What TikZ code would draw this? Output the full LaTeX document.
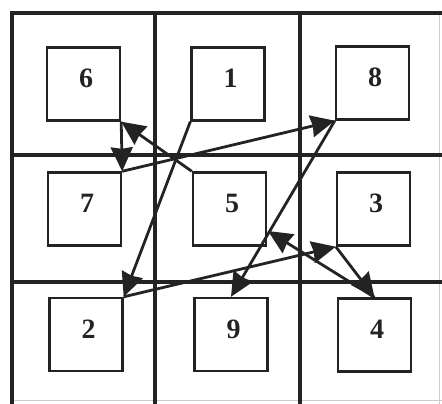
\documentclass[tikz,border=0pt]{standalone}
\usepackage{fontspec}
\setmainfont{Liberation Serif}
\usetikzlibrary{arrows.meta}
\definecolor{ink}{RGB}{35,35,35}
\begin{document}
\begin{tikzpicture}[x=1pt,y=-1pt,
  gridline/.style={line width=4pt, draw=ink},
  faint/.style={line width=0.8pt, draw=black!20},
  box/.style={draw=ink, line width=2.4pt, minimum width=73pt, minimum height=73pt, inner sep=0pt},
  num/.style={font=\fontsize{28}{28}\selectfont\bfseries, text=ink, inner sep=0pt},
  conn/.style={draw=ink, line width=2.8pt, -{Stealth[length=24pt,width=22pt,inset=1.5pt]}}]
\useasboundingbox (0,0) rectangle (442,404);
% faint outer edges
\draw[faint] (439,13) -- (439,404);
\draw[faint] (12,400) -- (442,400);
% grid
\draw[gridline] (12,404) -- (12,13) -- (442,13);
\draw[gridline] (155,13) -- (155,404);
\draw[gridline] (300,13) -- (300,404);
\draw[gridline] (12,155) -- (442,155);
\draw[gridline] (12,282) -- (442,282);
% squares
\node[box] (s6) at (83.5,84) {};
\node[box] (s1) at (228,84) {};
\node[box] (s8) at (372.5,83) {};
\node[box] (s7) at (84.5,209) {};
\node[box] (s5) at (229.5,209) {};
\node[box] (s3) at (373.5,209) {};
\node[box] (s2) at (86,334.5) {};
\node[box] (s9) at (231,334.5) {};
\node[box] (s4) at (374.5,335) {};
% numbers
\node[num] (n6) at (86,78.5) {6};
\node[num] (n1) at (230.5,78.5) {1};
\node[num] (n8) at (375,77.5) {8};
\node[num] (n7) at (87,203.5) {7};
\node[num] (n5) at (232,203.5) {5};
\node[num] (n3) at (376,203.5) {3};
\node[num] (n2) at (88.5,329) {2};
\node[num] (n9) at (233.5,329) {9};
\node[num] (n4) at (377,329.5) {4};
% special end point near square 5
\coordinate (t5) at (268,231);
% path 1 -> 9
\draw[conn] (s1.south west) -- (s2.north east);
\draw[conn] (s2.north east) -- (s3.south west);
\draw[conn] (s3.south west) -- (s4.north);
\draw[conn] (s4.north) -- (t5);
\draw[conn] (s5.north west) -- (s6.south east);
\draw[conn] (s6.south east) -- (s7.north east);
\draw[conn] (s7.north east) -- (s8.south west);
\draw[conn] (s8.south west) -- (s9.north);
\end{tikzpicture}
\end{document}
